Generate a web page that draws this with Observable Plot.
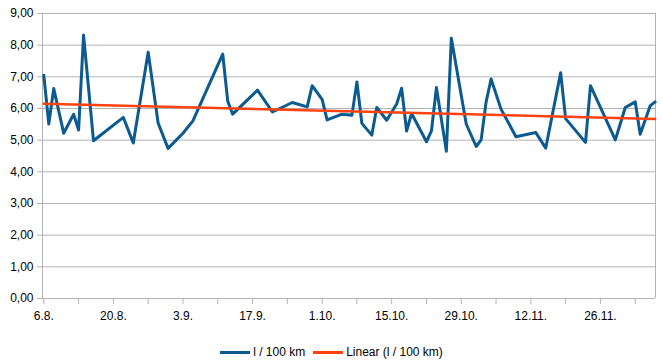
<!DOCTYPE html>
<html>
<head>
<meta charset="utf-8">
<script src="https://cdn.jsdelivr.net/npm/d3@7"></script>
<script src="https://cdn.jsdelivr.net/npm/@observablehq/plot@0.6"></script>
<style>
  html, body { margin: 0; padding: 0; background: #fff; }
  body { width: 663px; height: 364px; overflow: hidden; font-family: "Liberation Sans", Arial, sans-serif; }
  #legend { display: flex; justify-content: center; align-items: center; gap: 8px; margin-top: 9px; font-size: 12px; line-height: 14px; color: #000; }
  .item { display: flex; align-items: center; gap: 3px; }
  .sw { display: inline-block; width: 30px; height: 3px; }
</style>
</head>
<body>
<div id="chart"></div>
<div id="legend"></div>
<script>
const dates = [
  "2013-08-06","2013-08-07","2013-08-08","2013-08-10","2013-08-12","2013-08-13","2013-08-14","2013-08-16",
  "2013-08-22","2013-08-24","2013-08-27","2013-08-29","2013-08-31","2013-09-03","2013-09-05","2013-09-11",
  "2013-09-12","2013-09-13","2013-09-18","2013-09-21","2013-09-25","2013-09-28","2013-09-29","2013-10-01",
  "2013-10-02","2013-10-05","2013-10-07","2013-10-08","2013-10-09","2013-10-11","2013-10-12","2013-10-14",
  "2013-10-16","2013-10-17","2013-10-18","2013-10-19","2013-10-22","2013-10-23","2013-10-24","2013-10-26",
  "2013-10-27","2013-10-30","2013-11-01","2013-11-02","2013-11-03","2013-11-04","2013-11-06","2013-11-09",
  "2013-11-13","2013-11-15","2013-11-18","2013-11-19","2013-11-23","2013-11-24","2013-11-29","2013-12-01",
  "2013-12-03","2013-12-04","2013-12-06","2013-12-07"
];
const consumption = [
  7.05, 5.51, 6.63, 5.22, 5.82, 5.32, 8.32, 4.98,
  5.72, 4.91, 7.78, 5.54, 4.74, 5.22, 5.61, 7.72,
  6.24, 5.82, 6.58, 5.89, 6.19, 6.05, 6.72, 6.29,
  5.64, 5.82, 5.79, 6.84, 5.53, 5.16, 6.03, 5.63,
  6.14, 6.64, 5.29, 5.84, 4.95, 5.29, 6.66, 4.65,
  8.22, 5.51, 4.80, 5.01, 6.21, 6.93, 5.98, 5.11,
  5.24, 4.75, 7.13, 5.68, 4.93, 6.72, 5.01, 6.03,
  6.21, 5.19, 6.08, 6.21
];
// linear trend line (first and last date)
const trendDates = ["2013-08-06", "2013-12-07"];
const trendValues = [6.15, 5.67];
const xTicks = [
  "2013-08-06","2013-08-13","2013-08-20","2013-08-27","2013-09-03","2013-09-10","2013-09-17","2013-09-24",
  "2013-10-01","2013-10-08","2013-10-15","2013-10-22","2013-10-29","2013-11-05","2013-11-12","2013-11-19",
  "2013-11-26","2013-12-03"
];
const yTicks = [0, 1, 2, 3, 4, 5, 6, 7, 8, 9];
const seriesNames = ["l / 100 km", "Linear (l / 100 km)"];
const seriesColors = ["#0b5a90", "#ff420e"];

const toDate = d => new Date(d + "T00:00:00Z");
const table = dates.map((d, i) => ({date: toDate(d), value: consumption[i]}));
const trend = trendDates.map((d, i) => ({date: toDate(d), value: trendValues[i]}));
const tickDates = xTicks.map(toDate);
const labelled = new Set(tickDates.filter((d, i) => i % 2 === 0).map(d => +d));
const fmtDate = d3.utcFormat("%-d.%-m.");
const xDomain = [new Date("2013-08-05T17:40:00Z"), new Date("2013-12-07T02:00:00Z")];
const H = 336;

const chart = Plot.plot({
  width: 663,
  height: H,
  marginLeft: 42,
  marginRight: 8,
  marginTop: 13,
  marginBottom: H - 298,
  style: {fontFamily: "'Liberation Sans', Arial, sans-serif", fontSize: "12px", color: "#000", background: "#fff"},
  x: {type: "utc", domain: xDomain, label: null},
  y: {domain: [0, 9], label: null},
  marks: [
    Plot.ruleY(yTicks, {stroke: "#b3b3b3", strokeWidth: 1}),
    Plot.ruleX(xDomain, {stroke: "#b3b3b3", strokeWidth: 1}),
    Plot.axisX({ticks: tickDates, tickFormat: d => labelled.has(+d) ? fmtDate(d) : "", tickSize: 6, tickPadding: 7, stroke: "#b3b3b3", fill: "#000", label: null}),
    Plot.axisY({ticks: yTicks, tickFormat: d => d.toFixed(2).replace(".", ","), tickSize: 5, tickPadding: 4, stroke: "#b3b3b3", fill: "#000", label: null}),
    Plot.lineY(table, {x: "date", y: "value", stroke: seriesColors[0], strokeWidth: 3}),
    Plot.lineY(trend, {x: "date", y: "value", stroke: seriesColors[1], strokeWidth: 2.5})
  ]
});
document.getElementById("chart").appendChild(chart);

const legend = document.getElementById("legend");
seriesNames.forEach((name, i) => {
  const item = document.createElement("div");
  item.className = "item";
  const sw = document.createElement("span");
  sw.className = "sw";
  sw.style.background = seriesColors[i];
  const label = document.createElement("span");
  label.textContent = name;
  item.appendChild(sw);
  item.appendChild(label);
  legend.appendChild(item);
});
</script>
</body>
</html>
